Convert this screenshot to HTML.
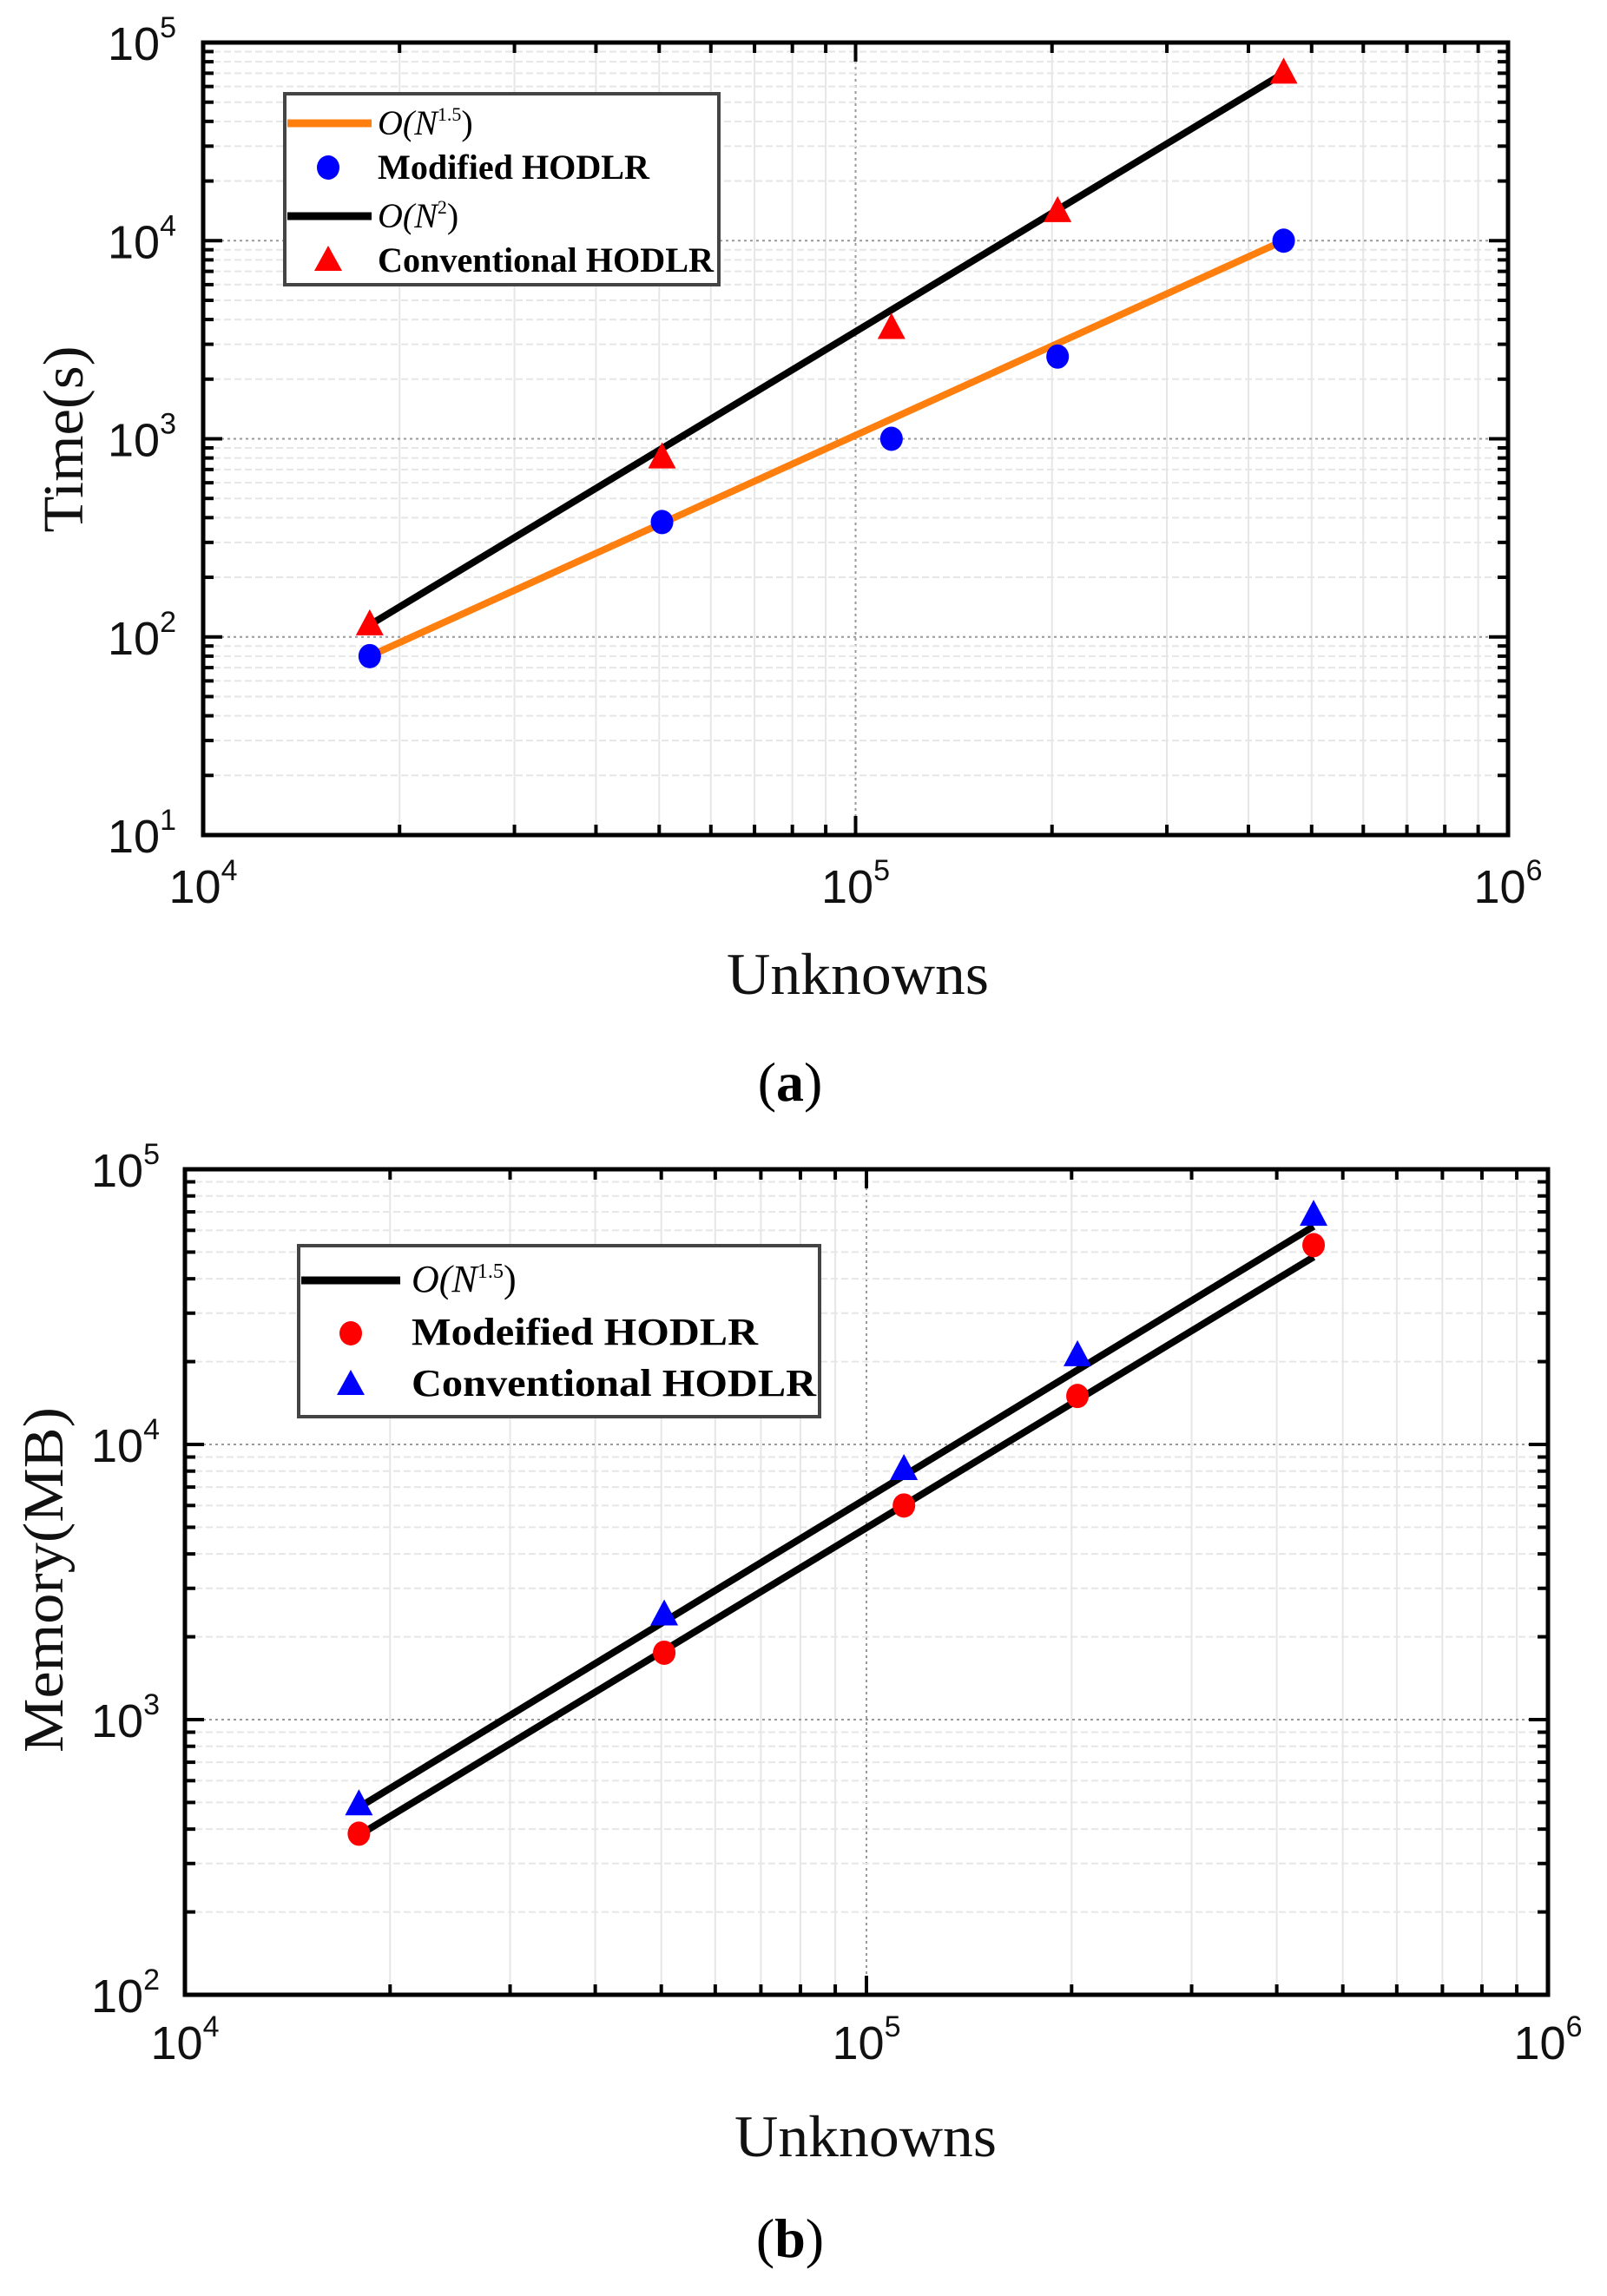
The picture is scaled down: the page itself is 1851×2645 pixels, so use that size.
<!DOCTYPE html>
<html><head><meta charset="utf-8"><style>
html,body{margin:0;padding:0;background:#fff;}
svg{display:block;}
</style></head><body>
<svg id="fig" width="1851" height="2645" viewBox="0 0 1851 2645" xmlns="http://www.w3.org/2000/svg"></svg>
<script>
// ---- data: chart (a) time ----
const unknowns = [18000, 50500, 113500, 204000, 453000];
const timeModified = [80, 380, 1000, 2600, 10000];
const timeConventional = [115, 800, 3600, 14000, 70000];
const fitX = [18000, 453000];
const timeFit15 = [80, 10000];
const timeFit2 = [115, 70000];
// ---- data: chart (b) memory ----
const memModified = [385, 1750, 6000, 15000, 53000];
const memConventional = [490, 2400, 8100, 21000, 68000];
const memFitLower = [380, 48000];
const memFitUpper = [480, 62000];
const xTickExps = [4, 5, 6];
const yTickExpsA = [1, 2, 3, 4, 5];
const yTickExpsB = [2, 3, 4, 5];

const NS = 'http://www.w3.org/2000/svg';
const fig = document.getElementById('fig');
function el(tag, attrs, parent, text) {
  const e = document.createElementNS(NS, tag);
  for (const k in attrs) e.setAttribute(k, attrs[k]);
  if (text !== undefined) e.textContent = text;
  (parent || fig).appendChild(e);
  return e;
}

function drawChart(cfg) {
  const g = el('g', {});
  
  
  const L = cfg.L, R = cfg.R, T = cfg.T, B = cfg.B;
  const xs = v => L + (Math.log10(v) - cfg.xmin) / (cfg.xmax - cfg.xmin) * (R - L);
  const ys = v => B - (Math.log10(v) - cfg.ymin) / (cfg.ymax - cfg.ymin) * (B - T);
  // grid
  const grid = el('g', {}, g);
  
  
  for (let e = cfg.xmin; e < cfg.xmax; e++) for (let m = 1; m < 10; m++) {
    const v = m * Math.pow(10, e); const x = xs(v);
    if (m === 1) { if (e !== cfg.xmin) el('line', {x1:x,y1:T,x2:x,y2:B,stroke:'#999','stroke-width':2,'stroke-dasharray':'3,4'}, grid); }
    else el('line', {x1:x,y1:T,x2:x,y2:B,stroke:'#e6e6e6','stroke-width':2}, grid);
  }
  for (let e = cfg.ymin; e < cfg.ymax; e++) for (let m = 1; m < 10; m++) {
    const v = m * Math.pow(10, e); const y = ys(v);
    if (m === 1) { if (e !== cfg.ymin) el('line', {x1:L,y1:y,x2:R,y2:y,stroke:'#999','stroke-width':2,'stroke-dasharray':'3,4'}, grid); }
    else el('line', {x1:L,y1:y,x2:R,y2:y,stroke:'#e6e6e6','stroke-width':2,'stroke-dasharray':'8,4'}, grid);
  }
  // ticks
  const tk = el('g', {stroke:'#000','stroke-width':4}, g);
  
  
  for (let e = cfg.xmin; e < cfg.xmax; e++) for (let m = 1; m < 10; m++) {
    const x = xs(m * Math.pow(10, e)); const len = m === 1 ? 22 : 12;
    el('line', {x1:x,y1:B,x2:x,y2:B-len}, tk); el('line', {x1:x,y1:T,x2:x,y2:T+len}, tk);
  }
  for (let e = cfg.ymin; e < cfg.ymax; e++) for (let m = 1; m < 10; m++) {
    const y = ys(m * Math.pow(10, e)); const len = m === 1 ? 22 : 12;
    el('line', {x1:L,y1:y,x2:L+len,y2:y}, tk); el('line', {x1:R,y1:y,x2:R-len,y2:y}, tk);
  }
  // frame
  const fr = el('rect', {x:L,y:T,width:R-L,height:B-T,fill:'none',stroke:'#000','stroke-width':5}, g);
  
  
  // tick labels
  cfg.xticks.forEach(e => {
    const t = el('text', {x:xs(Math.pow(10,e)), y:cfg.xLabelY, 'text-anchor':'middle','font-family':'Liberation Sans, sans-serif','font-size':54,fill:'#111'}, g);
    
    
    el('tspan', {}, t, '10');
    el('tspan', {dy:-26,'font-size':34}, t, String(e));
  });
  cfg.yticks.forEach(e => {
    const t = el('text', {x:cfg.yLabelX, y:ys(Math.pow(10,e))+20, 'text-anchor':'end','font-family':'Liberation Sans, sans-serif','font-size':54,fill:'#111'}, g);
    
    
    el('tspan', {}, t, '10');
    el('tspan', {dy:-26,'font-size':34}, t, String(e));
  });
  // fit lines
  cfg.lines.forEach(ln => {
    const p = el('line', {x1:xs(fitX[0]),y1:ys(ln.vals[0]),x2:xs(fitX[1]),y2:ys(ln.vals[1]),stroke:ln.color,'stroke-width':8}, g);
    
    
  });
  // markers
  cfg.series.forEach(s => {
    const sg = el('g', {}, g);
    
    
    s.vals.forEach((v, i) => {
      const x = xs(unknowns[i]), y = ys(v);
      let m;
      if (s.shape === 'circle') m = el('ellipse', {cx:x,cy:y,rx:13,ry:14,fill:s.color}, sg);
      else m = el('polygon', {points:`${x},${y-18} ${x-16},${y+12} ${x+16},${y+12}`,fill:s.color}, sg);
      
      
    });
  });
  // legend
  const lg = el('g', {}, g);
  
  
  const lb = cfg.legend;
  el('rect', {x:lb.x,y:lb.y,width:lb.w,height:lb.h,fill:'#fff',stroke:'#444','stroke-width':4}, lg);
  lb.items.forEach(it => {
    const ie = el('g', {}, lg);
    
    
    if (it.type === 'line') el('line', {x1:lb.x+3,y1:it.y,x2:lb.x+lb.lineW,y2:it.y,stroke:it.color,'stroke-width':9}, ie);
    else if (it.type === 'circle') el('ellipse', {cx:lb.mx,cy:it.y,rx:13,ry:14,fill:it.color}, ie);
    else el('polygon', {points:`${lb.mx},${it.y-17} ${lb.mx-16},${it.y+12} ${lb.mx+16},${it.y+12}`,fill:it.color}, ie);
    const t = el('text', {x:lb.tx,y:it.y+13,'font-family':'Liberation Serif, serif','font-size':lb.fs,fill:'#000'}, ie);
    if (it.sup) {
      t.setAttribute('font-style','italic');
      el('tspan', {}, t, 'O(N');
      el('tspan', {dy:-16,'font-size':lb.fs*0.55,'font-style':'normal'}, t, it.sup);
      el('tspan', {dy:16,'font-style':'normal'}, t, ')');
    } else {
      t.setAttribute('font-weight','bold');
      t.setAttribute('textLength', it.tl);
      t.setAttribute('lengthAdjust','spacingAndGlyphs');
      t.textContent = it.label;
    }
  });
  // axis titles
  const xt = el('text', {x:cfg.xTitle[0],y:cfg.xTitle[1],'text-anchor':'middle','font-family':'Liberation Serif, serif','font-size':68,textLength:302,lengthAdjust:'spacingAndGlyphs',fill:'#111'}, g, 'Unknowns');
  
  
  const yt = el('text', {x:0,y:0,transform:`translate(${cfg.yTitle[0]},${cfg.yTitle[1]}) rotate(-90)`,'text-anchor':'middle','font-family':'Liberation Serif, serif','font-size':66,textLength:cfg.yTitle[3],lengthAdjust:'spacingAndGlyphs',fill:'#111'}, g, cfg.yTitle[2]);
  
  
  const cap = el('text', {x:910,y:cfg.capY,'text-anchor':'middle','font-family':'Liberation Serif, serif','font-size':64,fill:'#000'}, g);
  
  
  el('tspan', {}, cap, '(');
  el('tspan', {'font-weight':'bold'}, cap, cfg.cap);
  el('tspan', {}, cap, ')');
}

drawChart({
  name:'chart-a-time', L:234, R:1737, T:49, B:962, xmin:4, xmax:6, ymin:1, ymax:5,
  xticks:xTickExps, yticks:yTickExpsA, xLabelY:1040, yLabelX:203,
  lines:[{name:'fit-n2-line',vals:timeFit2,color:'#000'},{name:'fit-n15-line',vals:timeFit15,color:'#ff7f0e'}],
  series:[{name:'modified-hodlr-points',vals:timeModified,shape:'circle',color:'#0000ff'},
          {name:'conventional-hodlr-points',vals:timeConventional,shape:'tri',color:'#ff0000'}],
  legend:{x:328,y:108,w:500,h:220,lineW:100,mx:378,tx:435,fs:40,items:[
    {type:'line',color:'#ff7f0e',y:142,sup:'1.5'},
    {type:'circle',color:'#0000ff',y:193,label:'Modified HODLR',tl:313},
    {type:'line',color:'#000',y:249,sup:'2'},
    {type:'tri',color:'#ff0000',y:300,label:'Conventional HODLR',tl:387}]},
  xTitle:[988,1145], yTitle:[95,506,'Time(s)',215], capY:1268, cap:'a'
});
drawChart({
  name:'chart-b-memory', L:213, R:1783, T:1347, B:2298, xmin:4, xmax:6, ymin:2, ymax:5,
  xticks:xTickExps, yticks:yTickExpsB, xLabelY:2372, yLabelX:184,
  lines:[{name:'fit-upper-line',vals:memFitUpper,color:'#000'},{name:'fit-lower-line',vals:memFitLower,color:'#000'}],
  series:[{name:'modified-hodlr-points',vals:memModified,shape:'circle',color:'#ff0000'},
          {name:'conventional-hodlr-points',vals:memConventional,shape:'tri',color:'#0000ff'}],
  legend:{x:344,y:1435,w:600,h:197,lineW:117,mx:404,tx:474,fs:44,items:[
    {type:'line',color:'#000',y:1475,sup:'1.5'},
    {type:'circle',color:'#ff0000',y:1536,label:'Modeified HODLR',tl:399},
    {type:'tri',color:'#0000ff',y:1595,label:'Conventional HODLR',tl:466}]},
  xTitle:[997,2484], yTitle:[72,1820,'Memory(MB)',398], capY:2600, cap:'b'
});
</script>
</body></html>
